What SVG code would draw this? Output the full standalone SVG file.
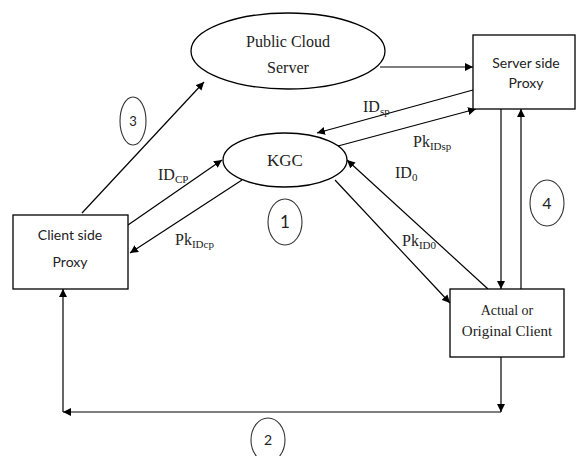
<svg xmlns="http://www.w3.org/2000/svg" width="578" height="456" viewBox="0 0 578 456">
<style>
.shape{fill:#fff;stroke:#000;stroke-width:1.3}
.circ{fill:none;stroke:#333;stroke-width:1.1}
.ln{fill:none;stroke:#000;stroke-width:1.2}
.serif{font-family:"Liberation Serif",serif;fill:#222}
.sans{font-family:Lato,"Liberation Sans",sans-serif;fill:#222}
.lbl{font-family:"Liberation Serif",serif;font-size:16px;fill:#222}
.sub{font-size:11px}
</style>
<defs>
<marker id="ah" viewBox="0 0 10 10" refX="10" refY="5" markerWidth="8" markerHeight="8" orient="auto" markerUnits="userSpaceOnUse">
<path d="M0,0 L10,5 L0,10 z" fill="#000"/>
</marker>
</defs>
<rect width="578" height="456" fill="#fff"/>
<g id="connectors">
<line class="ln" x1="380" y1="67" x2="473" y2="67" marker-end="url(#ah)"/>
<line class="ln" x1="473" y1="90" x2="317" y2="133" marker-end="url(#ah)"/>
<line class="ln" x1="338" y1="146" x2="476" y2="109" marker-end="url(#ah)"/>
<line class="ln" x1="82" y1="213" x2="204" y2="82" marker-end="url(#ah)"/>
<line class="ln" x1="128" y1="225" x2="222" y2="160" marker-end="url(#ah)"/>
<line class="ln" x1="242" y1="180" x2="130" y2="253" marker-end="url(#ah)"/>
<line class="ln" x1="335" y1="180" x2="450" y2="303" marker-end="url(#ah)"/>
<line class="ln" x1="488" y1="289" x2="347" y2="160" marker-end="url(#ah)"/>
<line class="ln" x1="501" y1="109" x2="501" y2="289" marker-end="url(#ah)"/>
<line class="ln" x1="521" y1="289" x2="521" y2="109" marker-end="url(#ah)"/>
<line class="ln" x1="501" y1="357" x2="501" y2="412" marker-end="url(#ah)"/>
<line class="ln" x1="501" y1="412" x2="63" y2="412" marker-end="url(#ah)"/>
<line class="ln" x1="63" y1="412" x2="63" y2="289" marker-end="url(#ah)"/>
</g>
<g id="public-cloud">
<ellipse class="shape" cx="288" cy="51" rx="97" ry="38"/>
<text class="serif" font-size="16" x="288" y="47" text-anchor="middle">Public Cloud</text>
<text class="serif" font-size="16" x="288" y="73" text-anchor="middle">Server</text>
</g>
<g id="server-proxy">
<rect class="shape" x="473" y="35" width="102" height="74"/>
<text class="sans" font-size="14" x="526" y="68" text-anchor="middle">Server side</text>
<text class="sans" font-size="14" x="526" y="88" text-anchor="middle">Proxy</text>
</g>
<g id="kgc">
<ellipse class="shape" cx="285" cy="160" rx="62" ry="27"/>
<text class="serif" font-size="17" x="285" y="166" text-anchor="middle">KGC</text>
</g>
<g id="client-proxy">
<rect class="shape" x="13" y="215" width="115" height="74"/>
<text class="sans" font-size="14" x="70" y="240" text-anchor="middle">Client side</text>
<text class="sans" font-size="14" x="70" y="267" text-anchor="middle">Proxy</text>
</g>
<g id="actual-client">
<rect class="shape" x="450" y="289" width="114" height="68"/>
<text class="serif" font-size="14" x="507" y="315" text-anchor="middle">Actual or</text>
<text class="serif" font-size="15" x="507" y="336" text-anchor="middle">Original Client</text>
</g>
<g id="step-labels">
<ellipse class="circ" cx="285" cy="222" rx="17" ry="23"/>
<text class="sans" font-size="17" x="285" y="228" text-anchor="middle">1</text>
<ellipse class="circ" cx="268" cy="440" rx="17" ry="22"/>
<text class="sans" font-size="14" x="268" y="445" text-anchor="middle">2</text>
<ellipse class="circ" cx="133" cy="121" rx="13" ry="24"/>
<text class="sans" font-size="13" x="133" y="126" text-anchor="middle">3</text>
<ellipse class="circ" cx="547" cy="203" rx="17" ry="23"/>
<text class="sans" font-size="16" x="547" y="209" text-anchor="middle">4</text>
</g>
<g id="edge-labels">
<text class="lbl" x="158" y="180">ID<tspan class="sub" dy="3">CP</tspan></text>
<text class="lbl" x="175" y="245">Pk<tspan class="sub" dy="3">IDcp</tspan></text>
<text class="lbl" x="363" y="112">ID<tspan class="sub" dy="3">sp</tspan></text>
<text class="lbl" x="413" y="147">Pk<tspan class="sub" dy="3">IDsp</tspan></text>
<text class="lbl" x="395" y="178">ID<tspan class="sub" dy="3">0</tspan></text>
<text class="lbl" x="402" y="246">Pk<tspan class="sub" dy="3">ID0</tspan></text>
</g>
</svg>
